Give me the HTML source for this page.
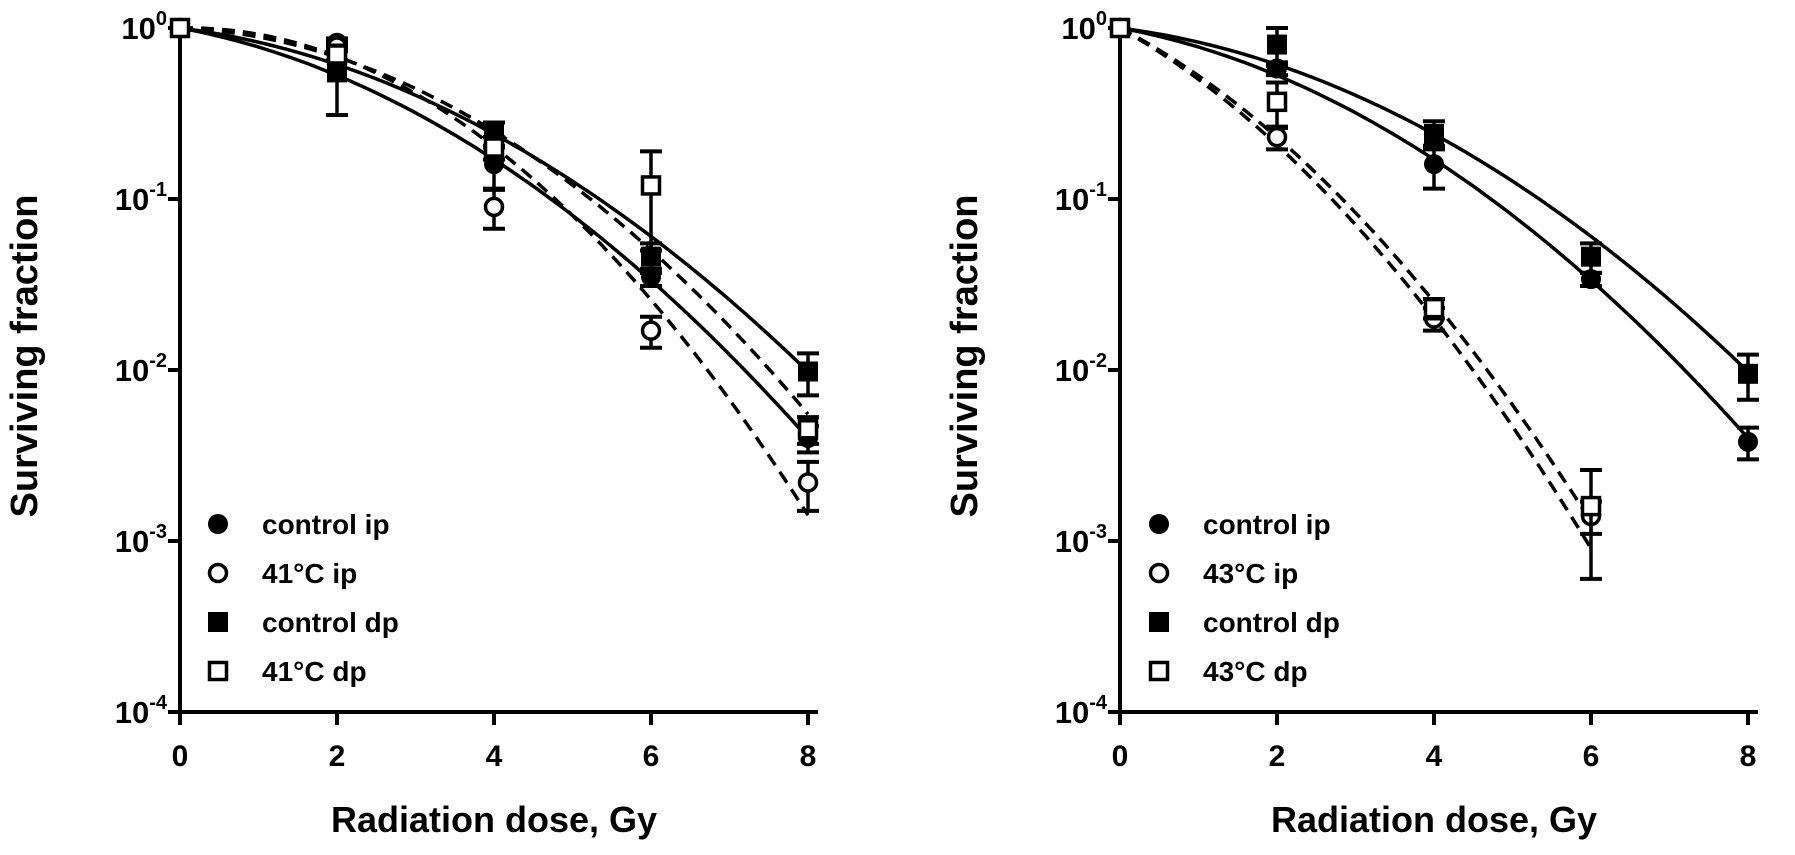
<!DOCTYPE html>
<html><head><meta charset="utf-8"><style>
html,body{margin:0;padding:0;background:#fff;}
svg{display:block;font-family:"Liberation Sans",Arial,sans-serif;font-weight:bold;}
</style></head><body>
<svg id="fig" width="1795" height="855" viewBox="0 0 1795 855" xmlns="http://www.w3.org/2000/svg"></svg>
<script>
// ---- data ----
const doses = [0, 2, 4, 6, 8];
const xTicks = [0, 2, 4, 6, 8];
const yTickExps = [0, -1, -2, -3, -4];
// left panel (41°C)
const L_ctrlIp = [1, 0.82, 0.16, 0.035, 0.0040];
const L_ctrlIpErr = [0, 0.05, 0.045, 0.004, 0.0007];
const L_hIp = [1, 0.78, 0.09, 0.017, 0.0022];
const L_hIpErr = [0, 0.05, 0.023, 0.0035, 0.0007];
const L_ctrlDp = [1, 0.55, 0.24, 0.046, 0.0098];
const L_ctrlDpErr = [0, 0.24, 0.04, 0.009, 0.0027];
const L_hDp = [1, 0.70, 0.20, 0.12, 0.0045];
const L_hDpErr = [0, 0.05, 0.03, 0.07, 0.0008];
const L_alpha = [0.195, -0.02, 0.136, 0.045];
const L_beta = [0.0619, 0.105, 0.0553, 0.0756];
// right panel (43°C)
const R_ctrlIp = [1, 0.58, 0.16, 0.034, 0.0038];
const R_ctrlIpErr = [0, 0.05, 0.045, 0.003, 0.0008];
const R_hIp = [1, 0.23, 0.020, 0.0014, null];
const R_hIpErr = [0, 0.035, 0.003, 0.0003, 0];
const R_ctrlDp = [1, 0.80, 0.24, 0.046, 0.0095];
const R_ctrlDpErr = [0, 0.2, 0.045, 0.009, 0.0028];
const R_hDp = [1, 0.37, 0.023, 0.0016, null];
const R_hDpErr = [0, 0.11, 0.003, 0.001, 0];
const R_alpha = [0.195, 0.598, 0.136, 0.55];
const R_beta = [0.0619, 0.095, 0.0553, 0.093];
const R_fitMax = [8, 6, 8, 6];
const L_fitMax = [8, 8, 8, 8];

const NS = "http://www.w3.org/2000/svg";
const svg = document.getElementById('fig');
function el(tag, attrs, parent){const e=document.createElementNS(NS,tag);for(const k in attrs)e.setAttribute(k,attrs[k]);(parent||svg).appendChild(e);return e;}

function panel(x0, tag, series, errs, alphas, betas, fitMax, legendLabels, legX){
  const g = el('g',{});
  
  
  const pxPerGy = 78.5, yTop = 28, dec = 171;
  const X = d => x0 + d * pxPerGy;
  const Y = v => yTop - Math.log10(v) * dec;
  const yBot = Y(1e-4), xEnd = X(8);
  const ax = el('path',{d:`M${x0} ${yTop-10} L${x0} ${yBot} L${xEnd+10} ${yBot}`,stroke:'#000','stroke-width':4,fill:'none'},g);
   
  xTicks.forEach(t=>{
    el('line',{x1:X(t),x2:X(t),y1:yBot,y2:yBot+13,stroke:'#000','stroke-width':4},g);
    const tx = el('text',{x:X(t),y:yBot+54,'text-anchor':'middle','font-size':30},g);
    tx.textContent = t;
     
  });
  yTickExps.forEach(e=>{
    const y = Y(Math.pow(10,e));
    el('line',{x1:x0-12,x2:x0,y1:y,y2:y,stroke:'#000','stroke-width':4},g);
    const tx = el('text',{x:x0-13,y:y+11,'text-anchor':'end','font-size':31},g);
    tx.innerHTML = '10<tspan dy="-14" font-size="20">' + e + '</tspan>';
     
  });
  const xt = el('text',{x:(x0+xEnd)/2,y:832,'text-anchor':'middle','font-size':36},g);
  xt.textContent = 'Radiation dose, Gy';
   
  const ytx = x0-143, yty = 356;
  const yt = el('text',{x:ytx,y:yty,'text-anchor':'middle','font-size':38,transform:`rotate(-90 ${ytx} ${yty})`},g);
  yt.textContent = 'Surviving fraction';
   
  const dashes = [null,'13 8',null,'13 8'];
  for(let s=0;s<4;s++){
    let d='';
    for(let i=0;i<=100;i++){const D=fitMax[s]*i/100;const v=Math.exp(-alphas[s]*D-betas[s]*D*D);d+=(i?'L':'M')+X(D).toFixed(1)+' '+Y(v).toFixed(1);}
    const p = el('path',{d:d,stroke:'#000','stroke-width':3.5,fill:'none'},g);
    if(dashes[s]) p.setAttribute('stroke-dasharray',dashes[s]);
     
  }
  function marker(type,cx,cy,parent){
    let m;
    if(type===0) m=el('circle',{cx:cx,cy:cy,r:10,fill:'#000'},parent);
    else if(type===1) m=el('circle',{cx:cx,cy:cy,r:8.5,fill:'#fff',stroke:'#000','stroke-width':3.5},parent);
    else if(type===2) m=el('rect',{x:cx-10,y:cy-10,width:20,height:20,fill:'#000'},parent);
    else m=el('rect',{x:cx-8.5,y:cy-8.5,width:17,height:17,fill:'#fff',stroke:'#000','stroke-width':3.5},parent);
    return m;
  }
  for(let s=0;s<4;s++){
    doses.forEach((dd,i)=>{
      const v = series[s][i]; if(v==null) return;
      const e = errs[s][i];
      const cx = X(dd), cy = Y(v);
      if(e>0){
        const y1 = Y(v+e), y2 = Y(Math.max(v-e, v*0.05));
        el('line',{x1:cx,x2:cx,y1:y1,y2:y2,stroke:'#000','stroke-width':3.5},g);
        el('line',{x1:cx-11,x2:cx+11,y1:y1,y2:y1,stroke:'#000','stroke-width':4},g);
        el('line',{x1:cx-11,x2:cx+11,y1:y2,y2:y2,stroke:'#000','stroke-width':4},g);
      }
      const m = marker(s,cx,cy,g);
       
    });
  }
  const rows=[534,583,632,681];
  legendLabels.forEach((lab,i)=>{
    const lg = el('g',{},g);
     
    marker(i,legX,rows[i]-10,lg);
    const t = el('text',{x:legX+44,y:rows[i],'font-size':28},lg);
    t.textContent = lab;
  });
}
panel(180,'41C',[L_ctrlIp,L_hIp,L_ctrlDp,L_hDp],[L_ctrlIpErr,L_hIpErr,L_ctrlDpErr,L_hDpErr],L_alpha,L_beta,L_fitMax,['control ip','41°C ip','control dp','41°C dp'],218);
panel(1120,'43C',[R_ctrlIp,R_hIp,R_ctrlDp,R_hDp],[R_ctrlIpErr,R_hIpErr,R_ctrlDpErr,R_hDpErr],R_alpha,R_beta,R_fitMax,['control ip','43°C ip','control dp','43°C dp'],1159);
</script>
</body></html>
